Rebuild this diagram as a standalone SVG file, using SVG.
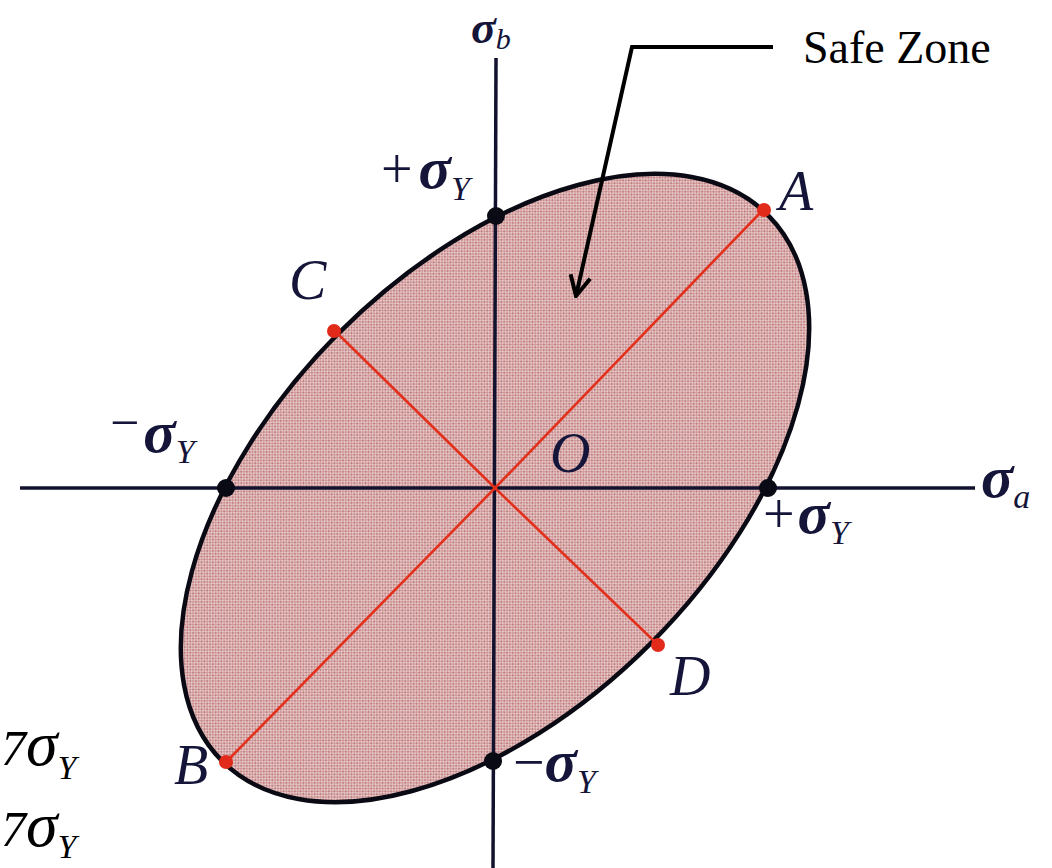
<svg xmlns="http://www.w3.org/2000/svg" width="1052" height="868" viewBox="0 0 1052 868">
<style>
.lbl{font-family:'Liberation Serif','Times New Roman',serif;font-style:italic;fill:#15153a}
.sig{font-family:'Liberation Serif','Times New Roman',serif;font-style:italic;font-weight:bold;fill:#15153a}
.sub{font-family:'Liberation Serif','Times New Roman',serif;font-style:italic;fill:#15153a}
.op{font-family:'Liberation Serif','Times New Roman',serif;fill:#15153a}
.plain{font-family:'Liberation Serif','Times New Roman',serif;fill:#000}
.cut{font-family:'Liberation Serif','Times New Roman',serif;font-style:italic;fill:#000}
.axis{stroke:#12122e;stroke-width:3.5;fill:none}
.red{stroke:#e2301c;stroke-width:2.6;fill:none}
.kdot{fill:#0a0a14}
.rdot{fill:#e22a1a}
.ptr{stroke:#000;stroke-width:4;fill:none}
</style>
<defs>
<pattern id="tex" width="4" height="4" patternUnits="userSpaceOnUse">
<rect width="4" height="4" fill="#cf9393"/>
<circle cx="1" cy="1" r="0.9" fill="#f1dfdf"/>
<circle cx="3" cy="3" r="0.9" fill="#f1dfdf"/>
<circle cx="3" cy="1" r="0.7" fill="#a9666a"/>
</pattern>
<marker id="vhead" viewBox="0 0 24 24" refX="22" refY="12" markerWidth="24" markerHeight="24" markerUnits="userSpaceOnUse" orient="auto">
<path d="M2,2 L22,12 L2,22" fill="none" stroke="#000" stroke-width="4" stroke-linejoin="miter"/>
</marker>
</defs>
<rect width="1052" height="868" fill="#fff"/>

<g id="zone">
<ellipse cx="495" cy="488" rx="386" ry="220" transform="rotate(-45 495 488)" fill="url(#tex)" stroke="#0a0a14" stroke-width="4.5"/>
</g>

<g id="axes">
<line class="axis" x1="20" y1="488" x2="975" y2="488"/>
<line class="axis" x1="496" y1="58" x2="493" y2="868"/>
</g>

<g id="connectors">
<line class="red" x1="495" y1="488" x2="760" y2="213"/>
<line class="red" x1="495" y1="488" x2="229" y2="759"/>
<line class="red" x1="495" y1="488" x2="338" y2="334"/>
<line class="red" x1="495" y1="488" x2="654" y2="641"/>
<path class="ptr" d="M773,47 L632,47 L576,296" marker-end="url(#vhead)"/>
</g>

<g id="point-A"><circle class="rdot" cx="764" cy="210" r="7"/><text class="lbl" x="779" y="210" font-size="56">A</text></g>
<g id="point-B"><circle class="rdot" cx="226" cy="762" r="7"/><text class="lbl" x="174" y="784" font-size="56">B</text></g>
<g id="point-C"><circle class="rdot" cx="334" cy="331" r="7"/><text class="lbl" x="289" y="299" font-size="56">C</text></g>
<g id="point-D"><circle class="rdot" cx="658" cy="645" r="7"/><text class="lbl" x="670" y="695" font-size="56">D</text></g>

<g id="point-O"><text class="lbl" x="550" y="472" font-size="56">O</text></g>

<g id="yield-top"><circle class="kdot" cx="496" cy="216" r="9"/>
<text x="381" y="188"><tspan class="op" font-size="56">+</tspan><tspan class="sig" font-size="60" dx="6">σ</tspan><tspan class="sub" font-size="34" dy="12">Y</tspan></text></g>
<g id="yield-bottom"><circle class="kdot" cx="493" cy="761" r="9"/>
<text x="513" y="781"><tspan class="op" font-size="56">−</tspan><tspan class="sig" font-size="60">σ</tspan><tspan class="sub" font-size="34" dy="12">Y</tspan></text></g>
<g id="yield-left"><circle class="kdot" cx="226" cy="488" r="9"/>
<text x="110" y="452"><tspan class="op" font-size="52" dy="-12">−</tspan><tspan class="sig" font-size="60" dy="12" dx="4">σ</tspan><tspan class="sub" font-size="34" dy="11">Y</tspan></text></g>
<g id="yield-right"><circle class="kdot" cx="768" cy="488" r="9"/>
<text x="763" y="533"><tspan class="op" font-size="56">+</tspan><tspan class="sig" font-size="60" dx="3">σ</tspan><tspan class="sub" font-size="34" dy="11">Y</tspan></text></g>

<g id="axis-a"><text x="981" y="497"><tspan class="sig" font-size="60">σ</tspan><tspan class="sub" font-size="34" dy="11">a</tspan></text></g>
<g id="axis-b"><text x="471" y="43"><tspan class="sig" font-size="46">σ</tspan><tspan class="sub" font-size="30" dy="6">b</tspan></text></g>

<g id="safe-zone-label"><text class="plain" x="803" y="63" font-size="46">Safe Zone</text></g>

<g id="cut-text">
<text class="cut" x="1" y="765"><tspan font-size="50">7</tspan><tspan font-size="64">σ</tspan><tspan font-size="34" dy="14">Y</tspan></text>
<text class="cut" x="1" y="846"><tspan font-size="50">7</tspan><tspan font-size="64">σ</tspan><tspan font-size="34" dy="12">Y</tspan></text>
</g>
</svg>
